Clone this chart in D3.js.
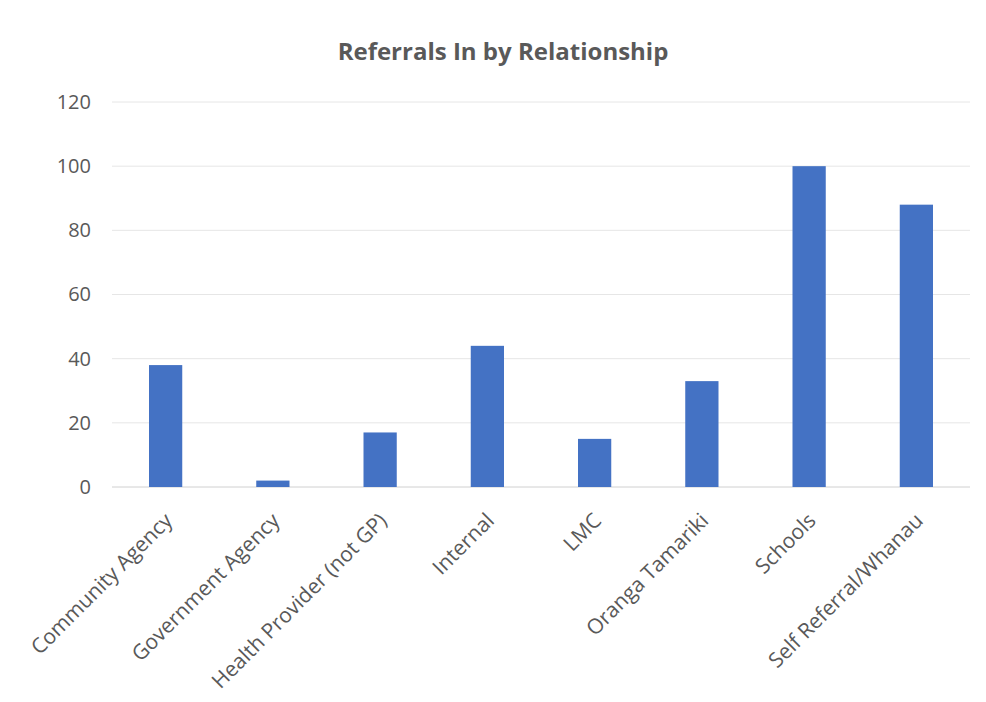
<!DOCTYPE html>
<html>
<head>
<meta charset="utf-8">
<script src="https://cdn.jsdelivr.net/npm/d3@7"></script>
<style>
  body { margin: 0; background: #fff; }
  text { font-family: "Open Sans", "DejaVu Sans", sans-serif; }
</style>
</head>
<body>
<div id="chart"></div>
<script>
// chart data
const categories = ["Community Agency", "Government Agency", "Health Provider (not GP)", "Internal",
    "LMC", "Oranga Tamariki", "Schools", "Self Referral/Whanau"];
const referrals = [38, 2, 17, 44, 15, 33, 100, 88];
const yTicks = [0, 20, 40, 60, 80, 100, 120];

const width = 986;
const height = 702;
const margin = { top: 102, right: 16, bottom: 215, left: 112 };

const svg = d3.select("#chart")
    .append("svg")
    .attr("width", width)
    .attr("height", height);

const xScale = d3.scaleBand()
    .domain(categories)
    .range([margin.left, width - margin.right])
    .paddingInner(0.69)
    .paddingOuter(0.345);

const yScale = d3.scaleLinear()
    .domain([0, 120])
    .range([height - margin.bottom, margin.top]);

// gridlines
svg.append("g")
    .selectAll("line")
    .data(yTicks)
    .enter()
    .append("line")
    .attr("x1", margin.left)
    .attr("x2", width - margin.right)
    .attr("y1", d => yScale(d))
    .attr("y2", d => yScale(d))
    .attr("stroke", d => d === 0 ? "#d0d0d0" : "#e6e6e6")
    .attr("stroke-width", 1);

// bars
svg.selectAll(".bar")
    .data(referrals)
    .enter()
    .append("rect")
    .attr("class", "bar")
    .attr("x", (d, i) => xScale(categories[i]))
    .attr("y", d => yScale(d))
    .attr("width", xScale.bandwidth())
    .attr("height", d => yScale(0) - yScale(d))
    .attr("fill", "#4472c4");

// y axis labels
const yAxis = svg.append("g")
    .attr("transform", `translate(${margin.left - 21},0)`)
    .call(d3.axisLeft(yScale).tickValues(yTicks).tickSize(0).tickPadding(0));
yAxis.select(".domain").remove();
yAxis.selectAll("text")
    .attr("fill", "#595959")
    .style("font-size", "20px");

// x axis labels, rotated
const xAxis = svg.append("g")
    .attr("transform", `translate(0,${yScale(0)})`)
    .call(d3.axisBottom(xScale).tickSize(0).tickPadding(0));
xAxis.select(".domain").remove();
xAxis.selectAll("text")
    .attr("fill", "#595959")
    .style("font-size", "21px")
    .style("text-anchor", "end")
    .attr("dy", "0")
    .attr("transform", "translate(8,35) rotate(-45)");

// title
svg.append("text")
    .attr("x", 503)
    .attr("y", 60)
    .attr("text-anchor", "middle")
    .attr("fill", "#595959")
    .style("font-size", "24px")
    .style("font-weight", "bold")
    .text("Referrals In by Relationship");
</script>
</body>
</html>
